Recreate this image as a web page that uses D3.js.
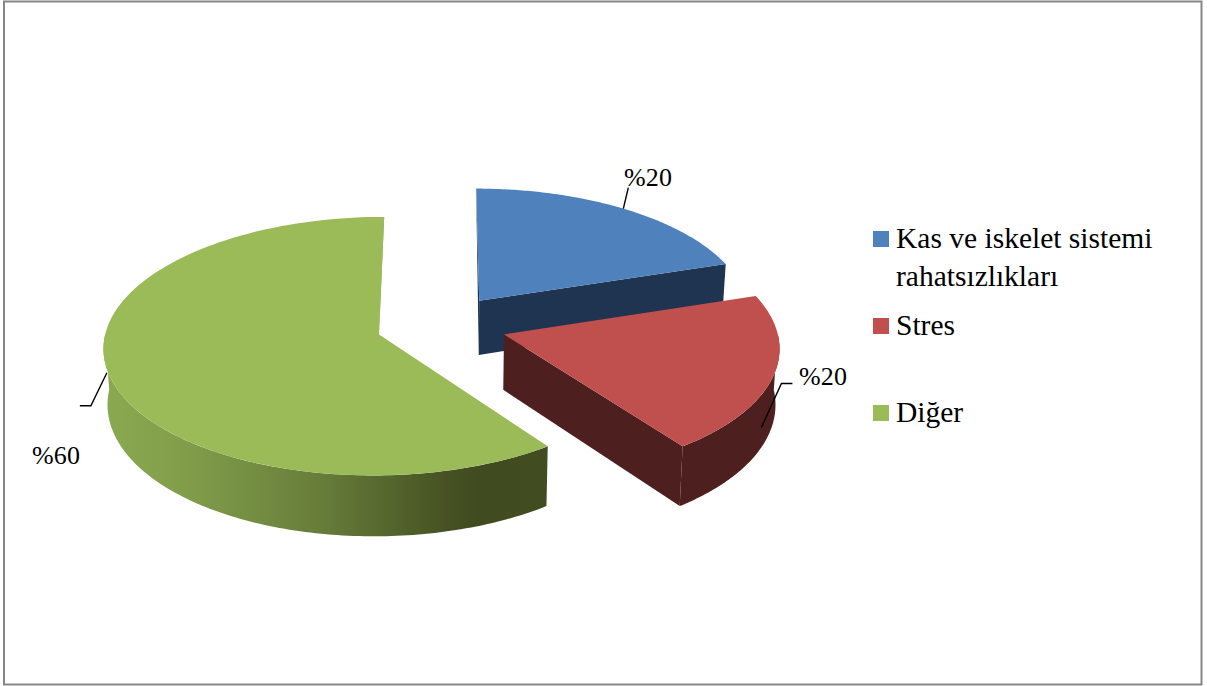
<!DOCTYPE html>
<html>
<head>
<meta charset="utf-8">
<script src="https://cdn.jsdelivr.net/npm/d3@7"></script>
<style>
html,body{margin:0;padding:0;background:#fff;}
svg{display:block;}
text{font-family:"Liberation Serif",serif;fill:#000;}
</style>
</head>
<body>
<div id="chart"></div>
<script>
var categories = ["Kas ve iskelet sistemi|rahatsızlıkları","Stres","Diğer"];
var values = [20,20,60];
var valueLabels = ["%20","%20","%60"];
var topColors = ["#4f81bd","#c0504d","#9bbb59"];
var sideColors = ["#1f3450","#4e1f1f","#8aa650"];

var width = 1207,height = 686;
var svg = d3.select("#chart")
    .append("svg")
    .attr("width",width)
    .attr("height",height);

// chart frame
svg.append("rect")
    .attr("x",4)
    .attr("y",1.5)
    .attr("width",1197.5)
    .attr("height",683)
    .attr("fill","#fff")
    .attr("stroke","#868686")
    .attr("stroke-width",2);

// perspective projection of the pie disc, rim units
var cx = 441.5, cy = 325, rx = 272, ry = 126.5, persp = 0.09, depth = 55, explode = 0.24;
function project(X,Y,z){
    var w = 1+persp*Y;
    return [cx+rx*X/w*(1-0.012*z),cy+(-ry*Y+depth*z)/w];
}

var angle = d3.scaleLinear().domain([0,1]);
var arcs = d3.pie().sort(null).value(d=>d)(values).map(function(d,i){
    var mid = (d.startAngle+d.endAngle)/2;
    return {
        index:i,
        start:d.startAngle,
        end:d.endAngle,
        mid:mid,
        ox:explode*Math.sin(mid),
        oy:explode*Math.cos(mid)
    };
});

function rimPoint(a,t,z){
    return project(a.ox+Math.sin(t),a.oy+Math.cos(t),z);
}
var lineGen = d3.line();

function rimPoints(a,from,to,z){
    return d3.range(0,121).map(function(k){
        return rimPoint(a,from+(to-from)*k/120,z);
    });
}

var defs = svg.append("defs");
var grad = defs.append("linearGradient")
    .attr("id","greenWall")
    .attr("gradientUnits","userSpaceOnUse")
    .attr("x1",105).attr("x2",543).attr("y1",0).attr("y2",0);
[[0,"#8aa94f"],[0.2,"#809c4a"],[0.5,"#667c39"],[0.78,"#465223"],[0.85,"#404b20"],[1,"#414c20"]].forEach(function(s){
    grad.append("stop").attr("offset",s[0]).attr("stop-color",s[1]);
});

var g = svg.append("g");

function drawSlice(a){
    var i = a.index;
    var center = project(a.ox,a.oy,0);
    var centerLow = project(a.ox,a.oy,1);
    // cut face at the start or end of the slice
    var cutAngle = i==2 ? a.end : a.end;
    if(i==0){
        var p = rimPoint(a,cutAngle,0), q = rimPoint(a,cutAngle,1);
        g.append("path").attr("d",lineGen([center,p,q,centerLow])+"Z").attr("fill",sideColors[i]);
        var p0 = rimPoint(a,a.start,0);
        g.append("path").attr("d",lineGen([center,p0,centerLow])+"Z").attr("fill",sideColors[i]);
    }
    if(i==1){
        var p1 = rimPoint(a,cutAngle,0), q1 = rimPoint(a,cutAngle,1);
        g.append("path").attr("d",lineGen([center,p1,q1,centerLow])+"Z").attr("fill",sideColors[i]);
        var from = Math.PI/2, to = a.end;
        var wall = rimPoints(a,from,to,0).concat(rimPoints(a,to,from,1));
        g.append("path").attr("d",lineGen(wall)+"Z").attr("fill",sideColors[i]);
    }
    if(i==2){
        var from2 = a.start, to2 = Math.PI*1.5;
        var wall2 = rimPoints(a,from2,to2,0).concat(rimPoints(a,to2,from2,1));
        g.append("path").attr("d",lineGen(wall2)+"Z").attr("fill","url(#greenWall)");
        var e = rimPoint(a,a.end,0), e2 = rimPoint(a,a.end,0.1);
        g.append("path").attr("d",lineGen([center,e,project(a.ox-0.012,a.oy+1,0.02),center])+"Z").attr("fill",sideColors[i]);
    }
    var top = [center].concat(rimPoints(a,a.start,a.end,0));
    g.append("path").attr("d",lineGen(top)+"Z").attr("fill",topColors[i]);
}
drawSlice(arcs[2]);
drawSlice(arcs[0]);
drawSlice(arcs[1]);

// value labels with leader lines
var labelFont = 26;
var leaders = [
    {at:[0,0],elbow:[5,-21],end:[5,-21],tx:624,ty:186},
    {at:[0,0],elbow:[20,-44],end:[31,-44],tx:799,ty:385},
    {at:[0,0],elbow:[-16,33],end:[-27,33],tx:32,ty:464}
];
var leaderAnchors = [
    rimPoint(arcs[0],arcs[0].mid,0),
    rimPoint(arcs[1],arcs[1].mid+0.13,0.62),
    rimPoint(arcs[2],Math.PI*1.5-0.03,0.62)
];
leaders.forEach(function(l,i){
    var a = leaderAnchors[i];
    svg.append("path")
        .attr("d",lineGen([a,[a[0]+l.elbow[0],a[1]+l.elbow[1]],[a[0]+l.end[0],a[1]+l.end[1]]]))
        .attr("fill","none")
        .attr("stroke","#000")
        .attr("stroke-width",1.4);
    svg.append("text")
        .attr("x",l.tx)
        .attr("y",l.ty)
        .attr("font-size",labelFont)
        .attr("textLength",48)
        .text(valueLabels[i]);
});

// legend
var legendRows = [247,334,421];
var legendFont = 29.5;
categories.forEach(function(name,i){
    svg.append("rect")
        .attr("x",873)
        .attr("y",legendRows[i]-16)
        .attr("width",16)
        .attr("height",16)
        .attr("fill",topColors[i]);
    name.split("|").forEach(function(line,j){
        svg.append("text")
            .attr("x",896)
            .attr("y",legendRows[i]+1+j*38)
            .attr("font-size",legendFont)
            .text(line);
    });
});
</script>
</body>
</html>
